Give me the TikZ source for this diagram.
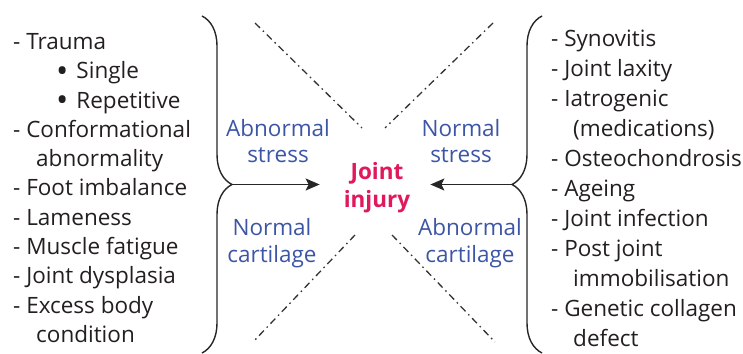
\documentclass[tikz,border=0pt]{standalone}
\usepackage{fontspec}
\setmainfont{Open Sans}
\usepackage{xcolor}
\usepackage{tikz}
\usetikzlibrary{arrows.meta,positioning,decorations.pathreplacing}

\definecolor{causegrey}{HTML}{231F20}
\definecolor{factorblue}{HTML}{3D55A5}
\definecolor{injuryred}{HTML}{E0195C}

\newcommand{\traumakind}[1]{\hspace*{43pt}\raisebox{-3.5pt}[0pt][0pt]{\scalebox{1.45}{\textbullet}}\hspace{8pt}#1}

\begin{document}
\begin{tikzpicture}[
  x=1pt, y=1pt,
  cause/.style  ={align=left, inner sep=0pt, text=causegrey},
  factor/.style ={align=center, inner sep=0pt, text=factorblue,
                  font=\fontsize{22.5}{26.5}\selectfont},
  hub/.style    ={align=center, inner sep=0pt, text=injuryred,
                  font=\fontsize{22.5}{28}\selectfont\bfseries},
  curly/.style  ={decorate, decoration={brace, amplitude=30pt}, line width=1.4pt, black!85},
  split/.style  ={line width=1.3pt, black!80, dash pattern=on 7pt off 4pt on 1.5pt off 4pt},
  arr/.style    ={-{Stealth[length=14pt, width=12pt, inset=3pt]}, line width=1.4pt, black!85},
]
\useasboundingbox (0,0) rectangle (743,353);

% the two lists of causes
\node[cause, anchor=west, font=\fontsize{22.5}{29.3}\selectfont] (left) at (13,165)
  {- Trauma\\
   \traumakind{Single}\\
   \traumakind{Repetitive}\\
   - Conformational\\
   \hspace*{23pt}abnormality\\
   - Foot imbalance\\
   - Lameness\\
   - Muscle fatigue\\
   - Joint dysplasia\\
   - Excess body\\
   \hspace*{23pt}condition};
\node[cause, anchor=west, font=\fontsize{22.5}{30}\selectfont] (right) at (551,164.5)
  {- Synovitis\\
   - Joint laxity\\
   - Iatrogenic\\
   \hspace*{22pt}(medications)\\
   - Osteochondrosis\\
   - Ageing\\
   - Joint infection\\
   - Post joint\\
   \hspace*{22pt}immobilisation\\
   - Genetic collagen\\
   \hspace*{22pt}defect};

% centre
\node[hub]    (inj)     at (377,165) {Joint\\injury};
\node[factor] (astress) at (278,212) {Abnormal\\stress};
\node[factor] (nstress) at (461,212) {Normal\\stress};
\node[factor] (ncart)   at (272,110) {Normal\\cartilage};
\node[factor] (acart)   at (470,110) {Abnormal\\cartilage};

% the cross
\coordinate (tlo) at (255,330); \coordinate (tli) at (362,225);
\coordinate (tro) at (493,330); \coordinate (tri) at (385,225);
\coordinate (blo) at (253,11);  \coordinate (bli) at (355,118);
\coordinate (bro) at (495,11);  \coordinate (bri) at (392,118);
\draw[split] (tlo) -- (tli);
\draw[split] (tro) -- (tri);
\draw[split] (bli) -- (blo);
\draw[split] (bri) -- (bro);

% braces and arrows
\draw[curly] (202,337) -- (202,0);
\draw[curly] (542,0) -- (542,337);
\coordinate (lt) at (232,168.5);
\coordinate (rt) at (512,168.5);
\draw[arr, shorten >=24pt] (lt) -- (lt -| inj.west);
\draw[arr, shorten >=20pt] (rt) -- (rt -| inj.east);
\end{tikzpicture}
\end{document}
